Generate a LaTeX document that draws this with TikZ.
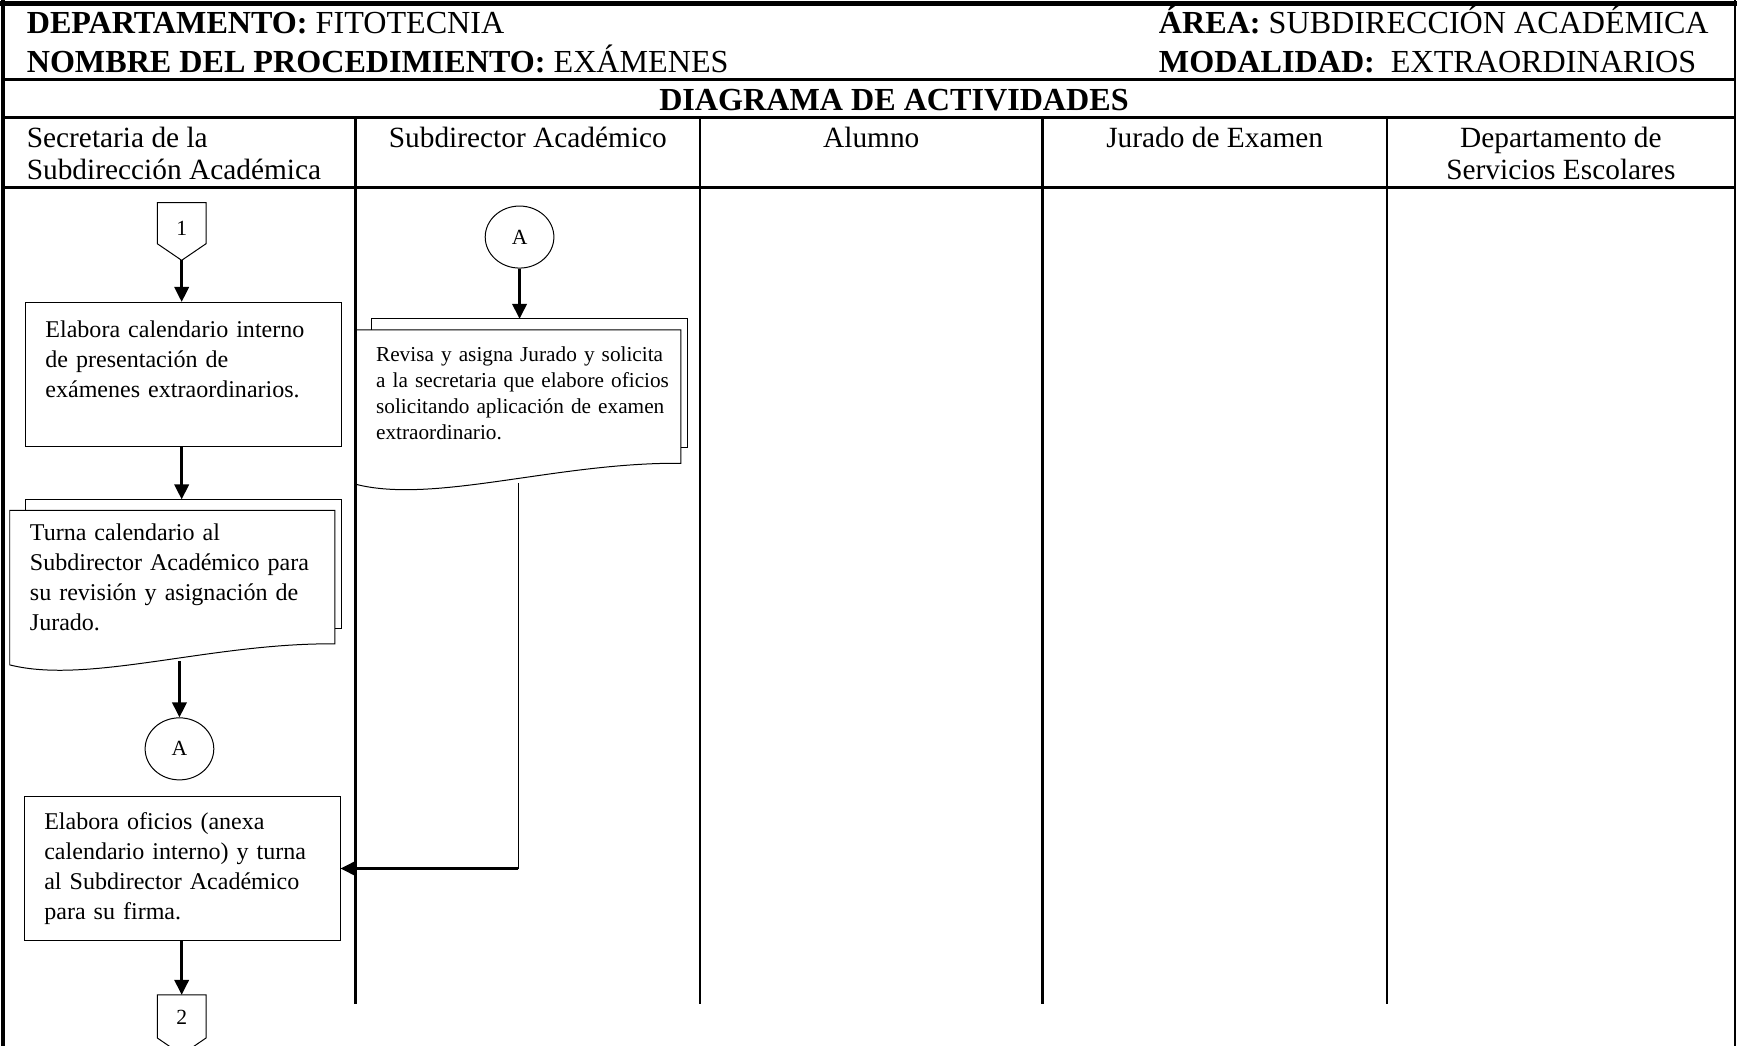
\documentclass[tikz,border=0pt]{standalone}
\usepackage{fontspec}
\setmainfont{Liberation Serif}
\usetikzlibrary{shapes.geometric,arrows.meta,calc}
\newcommand\mdoc[1]{%
  \draw[thinl] (#1.north west) -- (#1.north east) -- (#1.south east)
     .. controls +(-112,-1) and +(71,18) .. ([yshift=-19pt]#1.south west) -- cycle;
  \draw[thinl] ([xshift=14pt]#1.north west) -- ++(0,-10) -| ([xshift=6pt,yshift=14pt]#1.south east) -- ([yshift=14pt]#1.south east);
}
\begin{document}
\begin{tikzpicture}[x=1pt,y=-1pt,
  thinl/.style={line width=0.9pt},
  arr/.style={line width=2.3pt,-{Triangle[length=13.5pt,width=13pt]}},
  rule/.style={line width=2.5pt},
  hdr/.style={inner sep=0pt,anchor=base west,font=\fontsize{29}{34}\selectfont},
  lanehd/.style={inner sep=0pt,font=\fontsize{26.5}{29}\selectfont},
  proc/.style={draw,line width=0.9pt,minimum width=285pt,minimum height=130pt,text width=249pt,inner xsep=18pt,inner ysep=0pt,align=left,font=\fontsize{21.7}{27}\selectfont},
  docn/.style={minimum width=293pt,minimum height=120pt,text width=257pt,inner xsep=18pt,inner ysep=0pt,align=left},
  conn/.style={draw,ellipse,line width=0.9pt,minimum width=62pt,minimum height=56pt,inner sep=0pt,font=\fontsize{19.5}{22}\selectfont},
  lbl/.style={inner sep=0pt,font=\fontsize{19.5}{22}\selectfont}
]
\useasboundingbox (0,0) rectangle (1568,944);
% frame
\draw[line width=4.5pt] (0,3) -- (1568,3);
\draw[line width=3.5pt] (3,0) -- (3,944);
\draw[line width=2pt] (1566,0) -- (1566,944);
\draw[rule] (3,72) -- (1566,72);
\draw[rule] (3,106) -- (1566,106);
\draw[rule] (3,169) -- (1566,169);
\foreach \xx in {321,632,941,1252} \draw[line width=2pt] (\xx,106) -- (\xx,906);
% header
\node[hdr] (dep) at (24,30) {\textbf{DEPARTAMENTO:} FITOTECNIA};
\node[hdr] (nom) at (24,65) {\textbf{NOMBRE DEL PROCEDIMIENTO:} EXÁMENES};
\node[hdr] (area) at (1046,30) {\textbf{ÁREA:} SUBDIRECCIÓN ACADÉMICA};
\node[hdr] (moda) at (1046,65) {\textbf{MODALIDAD:}\ \ EXTRAORDINARIOS};
\node[hdr,anchor=base] (diag) at (807,100) {\textbf{DIAGRAMA DE ACTIVIDADES}};
% lane headers
\node[lanehd,anchor=base west,align=left] (l1) at (24,162) {Secretaria de la\\Subdirección Académica};
\node[lanehd,anchor=base] (l2) at (476.5,133) {Subdirector Académico};
\node[lanehd,anchor=base] (l3) at (786.5,133) {Alumno};
\node[lanehd,anchor=base] (l4) at (1096.5,133) {Jurado de Examen};
\node[lanehd,anchor=base,align=center] (l5) at (1409,162) {Departamento de\\Servicios Escolares};
% lane 1
\node[lbl] (c1) at (164,206) {1};
\draw[thinl] (c1) ++(-22,-23) -- ++(44,0) -- ++(0,37) -- ++(-22,15) coordinate (c1tip) -- ++(-22,-15) -- cycle;
\node[proc] (b1) at (165.5,338) {\mbox{Elabora calendario interno}\\de presentación de\\\mbox{exámenes extraordinarios.}\\\mbox{}};
\node[docn,font=\fontsize{21.7}{27}\selectfont] (d1) at (155.5,521) {Turna calendario al\\\mbox{Subdirector Académico para}\\\mbox{su revisión y asignación de}\\Jurado.};
\mdoc{d1}
\coordinate (d1t) at ([yshift=10pt]d1.north);
\coordinate (d1w) at (162,597);
\node[conn] (cA1) at (162,676) {A};
\node[proc] (b2) at (164.5,784) {\mbox{Elabora oficios (anexa}\\\mbox{calendario interno) y turna}\\\mbox{al Subdirector Académico}\\para su firma.};
\node[lbl] (c2) at (164,918.5) {2};
\draw[thinl] (c2) ++(-22,-20.5) coordinate (c2top) -- ++(44,0) -- ++(0,39) -- ++(-22,15) -- ++(-22,-15) -- cycle;
\draw[arr] (c1tip) -- (c1tip |- b1.north);
\draw[arr] (b1.south -| c1tip) -- (d1t -| c1tip);
\draw[arr] (d1w) -- (cA1.north);
\draw[arr] (b2.south -| c1tip) -- (c2 |- c2top);
% lane 2
\node[conn] (cA2) at (469,214) {A};
\node[docn,font=\fontsize{19.2}{23.7}\selectfont] (d2) at (468,358) {\mbox{Revisa y asigna Jurado y solicita}\\\mbox{a la secretaria que elabore oficios}\\\mbox{solicitando aplicación de examen}\\extraordinario.\\[-17.5pt]\mbox{}};
\mdoc{d2}
\coordinate (d2t) at ([yshift=10pt]d2.north);
\coordinate (d2w) at (468,436);
\coordinate (k) at (d2w |- b2.east);
\draw[arr] (cA2.south) -- (cA2.south |- d2t);
\draw[line width=1.2pt] (d2w) -- (k);
\draw[arr,line width=2.4pt] (k) -- (b2.east);
\end{tikzpicture}
\end{document}
